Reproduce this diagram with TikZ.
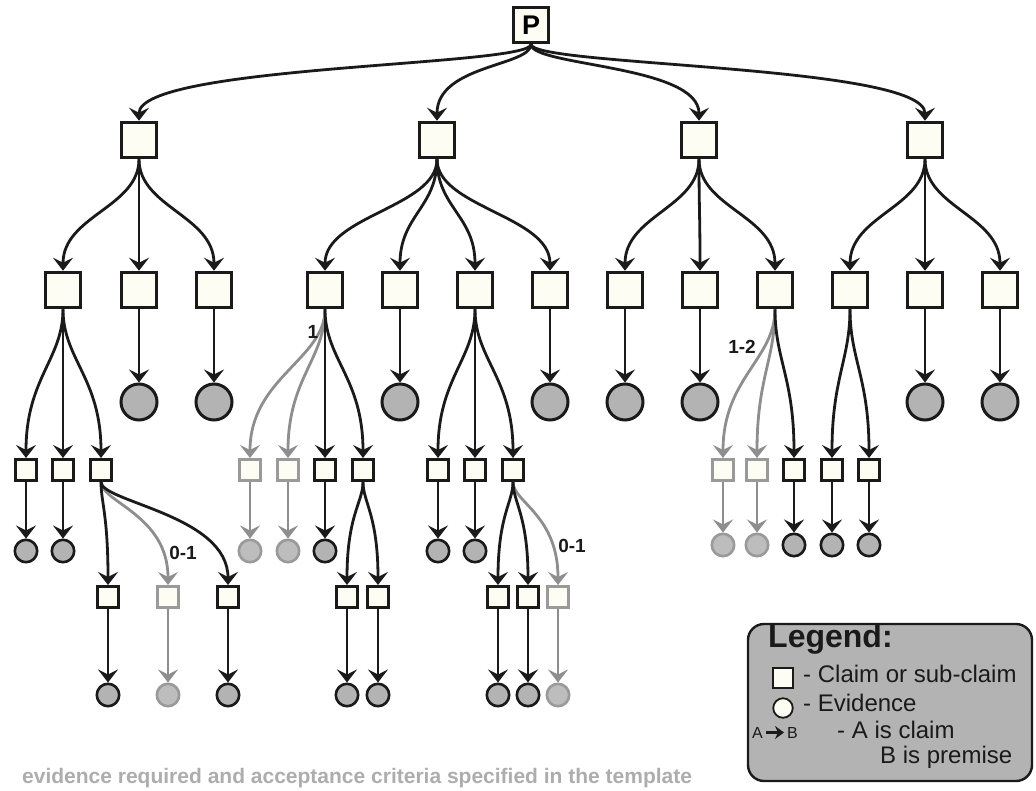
\documentclass[tikz,border=0pt]{standalone}
\usepackage{fontspec}
\setmainfont{Liberation Sans}
\usetikzlibrary{arrows.meta,calc}
\definecolor{ink}{HTML}{1A1A1A}
\definecolor{gline}{HTML}{8E8E8E}
\definecolor{boxfill}{HTML}{FDFDF4}
\definecolor{evfill}{HTML}{B3B3B3}
\definecolor{gevfill}{HTML}{BDBDBD}
\definecolor{gnode}{HTML}{9A9A9A}
\definecolor{legfill}{HTML}{B3B3B3}
\definecolor{foot}{HTML}{ADADAD}
\begin{document}
\begin{tikzpicture}[x=1pt,y=-1pt,
 claim/.style={draw=ink,line width=3pt,fill=boxfill,minimum size=35.5pt,inner sep=0pt},
 sclaim/.style={draw=ink,line width=2.7pt,fill=boxfill,minimum size=21.3pt,inner sep=0pt},
 ev/.style={circle,draw=ink,line width=3pt,fill=evfill,minimum size=36pt,inner sep=0pt},
 sev/.style={circle,draw=ink,line width=2.6pt,fill=evfill,minimum size=22.4pt,inner sep=0pt},
 ghost/.style={draw=gnode},
 gev/.style={draw=gnode,fill=gevfill},
 arr/.style={draw=ink,line width=2.8pt,-{Stealth[length=13pt,width=20pt,inset=5pt]}},
 garr/.style={arr,draw=gline},
 cv/.style 2 args={to path={.. controls ($(\tikztostart)+(0,#1)$) and ($(\tikztotarget)+(0,-#2)$) .. (\tikztotarget)}},
 lbl/.style={font=\bfseries\fontsize{19}{20}\selectfont,text=ink,inner sep=0pt},
 ltxt/.style={anchor=base west,inner sep=0pt,text=ink,font=\fontsize{24}{24}\selectfont},
]
\useasboundingbox (0,0) rectangle (1036,790);

% ---------- nodes ----------
\node[claim,font=\bfseries\fontsize{27}{27}\selectfont] (P) at (531,25) {P};

\node[claim] (a1) at (139,140) {};
\node[claim] (a2) at (437,140) {};
\node[claim] (a3) at (699,140) {};
\node[claim] (a4) at (925,140) {};

\node[claim] (b1) at (63,290) {};
\node[claim] (b2) at (139,290) {};
\node[claim] (b3) at (214,290) {};
\node[claim] (b4) at (325,290) {};
\node[claim] (b5) at (400,290) {};
\node[claim] (b6) at (475,290) {};
\node[claim] (b7) at (550,290) {};
\node[claim] (b8) at (625,290) {};
\node[claim] (b9) at (700,290) {};
\node[claim] (b10) at (775,290) {};
\node[claim] (b11) at (850,290) {};
\node[claim] (b12) at (925,290) {};
\node[claim] (b13) at (1000,290) {};

\node[ev] (e2) at (139,402) {};
\node[ev] (e3) at (214,402) {};
\node[ev] (e5) at (400,402) {};
\node[ev] (e7) at (550,402) {};
\node[ev] (e8) at (625,402) {};
\node[ev] (e9) at (700,402) {};
\node[ev] (e12) at (925,402) {};
\node[ev] (e13) at (1000,402) {};

\node[sclaim] (c1) at (26,470) {};
\node[sclaim] (c2) at (63,470) {};
\node[sclaim] (c3) at (101,470) {};
\node[sclaim,ghost] (c4) at (250,470) {};
\node[sclaim,ghost] (c5) at (288,470) {};
\node[sclaim] (c6) at (325,470) {};
\node[sclaim] (c7) at (363,470) {};
\node[sclaim] (c8) at (438,470) {};
\node[sclaim] (c9) at (475,470) {};
\node[sclaim] (c10) at (513,470) {};
\node[sclaim,ghost] (c11) at (723,470) {};
\node[sclaim,ghost] (c12) at (757,470) {};
\node[sclaim] (c13) at (794,470) {};
\node[sclaim] (c14) at (832,470) {};
\node[sclaim] (c15) at (869,470) {};

\node[sev] (f1) at (26,551) {};
\node[sev] (f2) at (63,551) {};
\node[sev,gev] (f4) at (250,551) {};
\node[sev,gev] (f5) at (288,551) {};
\node[sev] (f6) at (325,551) {};
\node[sev] (f8) at (438,551) {};
\node[sev] (f9) at (475,551) {};
\node[sev,gev] (f11) at (723,545) {};
\node[sev,gev] (f12) at (757,545) {};
\node[sev] (f13) at (794,545) {};
\node[sev] (f14) at (832,545) {};
\node[sev] (f15) at (869,545) {};

\node[sclaim] (d1) at (108,597) {};
\node[sclaim,ghost] (d2) at (168,597) {};
\node[sclaim] (d3) at (228,597) {};
\node[sclaim] (d4) at (347,597) {};
\node[sclaim] (d5) at (378,597) {};
\node[sclaim] (d6) at (498,597) {};
\node[sclaim] (d7) at (528,597) {};
\node[sclaim,ghost] (d8) at (558,597) {};

\node[sev] (g1) at (108,695) {};
\node[sev,gev] (g2) at (168,695) {};
\node[sev] (g3) at (228,695) {};
\node[sev] (g4) at (347,695) {};
\node[sev] (g5) at (378,695) {};
\node[sev] (g6) at (498,695) {};
\node[sev] (g7) at (528,695) {};
\node[sev,gev] (g8) at (558,695) {};

% ---------- grey connectors ----------
\draw[garr] (b4.south) to[cv={50}{80}] (c4.north);
\draw[garr] (b4.south) to[cv={50}{80}] (c5.north);
\draw[garr] (b10.south) to[cv={50}{80}] (c11.north);
\draw[garr] (b10.south) to[cv={50}{80}] (c12.north);
\draw[garr] (c3.south) to[cv={20}{70}] (d2.north);
\draw[garr] (c10.south) to[cv={20}{70}] (d8.north);
\draw[garr] (c4.south) -- (f4.north);
\draw[garr] (c5.south) -- (f5.north);
\draw[garr] (c11.south) -- (f11.north);
\draw[garr] (c12.south) -- (f12.north);
\draw[garr] (d2.south) -- (g2.north);
\draw[garr] (d8.south) -- (g8.north);

% ---------- black connectors ----------
\foreach \t in {a1,a2,a3,a4}
  \draw[arr] (P.south) to[cv={22}{56}] (\t.north);
\foreach \t in {b1,b2,b3}
  \draw[arr] (a1.south) to[cv={48}{55}] (\t.north);
\foreach \t in {b4,b5,b6,b7}
  \draw[arr] (a2.south) to[cv={48}{55}] (\t.north);
\foreach \t in {b8,b9,b10}
  \draw[arr] (a3.south) to[cv={48}{55}] (\t.north);
\foreach \t in {b11,b12,b13}
  \draw[arr] (a4.south) to[cv={48}{55}] (\t.north);

\draw[arr] (b2.south) -- (e2.north);
\draw[arr] (b3.south) -- (e3.north);
\draw[arr] (b5.south) -- (e5.north);
\draw[arr] (b7.south) -- (e7.north);
\draw[arr] (b8.south) -- (e8.north);
\draw[arr] (b9.south) -- (e9.north);
\draw[arr] (b12.south) -- (e12.north);
\draw[arr] (b13.south) -- (e13.north);

\foreach \t in {c1,c2,c3}
  \draw[arr] (b1.south) to[cv={50}{80}] (\t.north);
\foreach \t in {c6,c7}
  \draw[arr] (b4.south) to[cv={50}{80}] (\t.north);
\foreach \t in {c8,c9,c10}
  \draw[arr] (b6.south) to[cv={50}{80}] (\t.north);
\draw[arr] (b10.south) to[cv={50}{80}] (c13.north);
\foreach \t in {c14,c15}
  \draw[arr] (b11.south) to[cv={50}{80}] (\t.north);

\draw[arr] (c1.south) -- (f1.north);
\draw[arr] (c2.south) -- (f2.north);
\draw[arr] (c6.south) -- (f6.north);
\draw[arr] (c8.south) -- (f8.north);
\draw[arr] (c9.south) -- (f9.north);
\draw[arr] (c13.south) -- (f13.north);
\draw[arr] (c14.south) -- (f14.north);
\draw[arr] (c15.south) -- (f15.north);

\foreach \t in {d1,d3}
  \draw[arr] (c3.south) to[cv={20}{70}] (\t.north);
\foreach \t in {d4,d5}
  \draw[arr] (c7.south) to[cv={20}{70}] (\t.north);
\foreach \t in {d6,d7}
  \draw[arr] (c10.south) to[cv={20}{70}] (\t.north);

\draw[arr] (d1.south) -- (g1.north);
\draw[arr] (d3.south) -- (g3.north);
\draw[arr] (d4.south) -- (g4.north);
\draw[arr] (d5.south) -- (g5.north);
\draw[arr] (d6.south) -- (g6.north);
\draw[arr] (d7.south) -- (g7.north);

% ---------- multiplicity labels ----------
\node[lbl] (m1) at (183,553) {0-1};
\node[lbl] (m2) at (313,332) {1};
\node[lbl] (m3) at (572,546) {0-1};
\node[lbl] (m4) at (742,347) {1-2};

% ---------- legend ----------
\node[draw=ink,line width=2.4pt,fill=legfill,rounded corners=16pt,
      minimum width=284pt,minimum height=157pt,inner sep=0pt] (leg) at (890,702.5) {};
\node[anchor=base west,inner sep=0pt,text=ink,font=\bfseries\fontsize{32}{32}\selectfont] (lt) at (768,647) {Legend:};
\node[draw=ink,line width=1.8pt,fill=boxfill,minimum size=19.5pt,inner sep=0pt] (lsq) at (783,678) {};
\node[ltxt] (lc) at (803,682) {- Claim or sub-claim};
\node[circle,draw=ink,line width=1.8pt,fill=boxfill,minimum size=19.5pt,inner sep=0pt] (lci) at (783,708) {};
\node[ltxt] (le) at (803,711) {- Evidence};
\node[anchor=base west,inner sep=0pt,text=ink,font=\fontsize{16}{16}\selectfont] (la) at (752,738) {A};
\node[anchor=base west,inner sep=0pt,text=ink,font=\fontsize{16}{16}\selectfont] (lb) at (787,738) {B};
\draw[draw=ink,line width=2.4pt,-{Stealth[length=9pt,width=13pt,inset=3pt]}] ([xshift=3pt]la.east) -- ([xshift=-3pt]lb.west);
\node[ltxt] (lac) at (837,738) {- A is claim};
\node[ltxt] (lbp) at (880,763) {B is premise};

% ---------- footer ----------
\node[anchor=base west,inner sep=0pt,text=foot,font=\bfseries\fontsize{21}{22}\selectfont] (foot) at (22,783) {evidence required and acceptance criteria specified in the template};
\end{tikzpicture}
\end{document}
